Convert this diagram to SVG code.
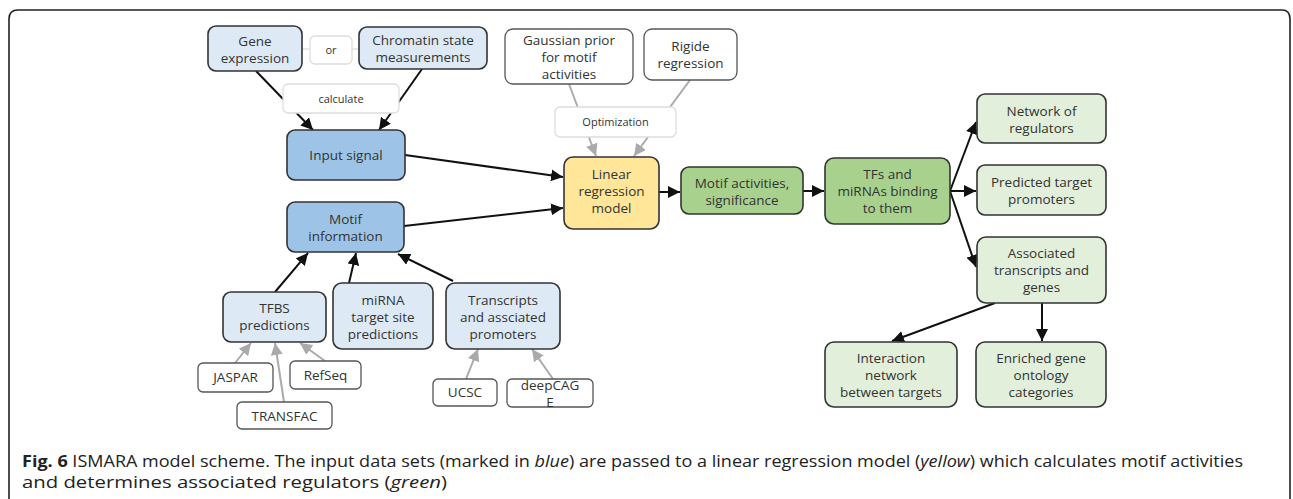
<svg xmlns="http://www.w3.org/2000/svg" width="1293" height="499" viewBox="0 0 1293 499">
<style>
  text { font-family: "Open Sans", "Liberation Sans", sans-serif; font-size: 13.5px; fill: #333; text-anchor: middle; }
  .n { stroke: #333; stroke-width: 1.6; }
  .lb { fill: #ddeaf6; }
  .db { fill: #9dc3e6; }
  .ye { fill: #ffe699; }
  .gr { fill: #a9d18e; }
  .lg { fill: #e2efda; }
  .wh { fill: #fff; stroke: #555; stroke-width: 1.3; }
  .gh { fill: #fff; stroke: #ddd; stroke-width: 1.3; }
  .sm { font-size: 11px; }
  .e { fill: none; stroke: #111; stroke-width: 2; }
  .eg { fill: none; stroke: #aaa; stroke-width: 2; }
  .cap { font-family: "Open Sans", "Liberation Sans", sans-serif; font-size: 16.5px; fill: #222; text-anchor: start; }
</style>
<defs>
  <marker id="ab" viewBox="0 0 10 10" refX="10" refY="5" markerWidth="6" markerHeight="6" markerUnits="strokeWidth" orient="auto">
    <path d="M0,0 L10,5 L0,10 z" fill="#111"/>
  </marker>
  <marker id="ag" viewBox="0 0 10 10" refX="10" refY="5" markerWidth="6" markerHeight="6" markerUnits="strokeWidth" orient="auto">
    <path d="M0,0 L10,5 L0,10 z" fill="#aaa"/>
  </marker>
  <clipPath id="clipDeep"><rect x="507" y="379" width="86" height="28" rx="5"/></clipPath>
</defs>
<rect width="1293" height="499" fill="#fff"/>
<path d="M9,520 L9,19 Q9,10 18,10 L1282,10 Q1290,10 1290,19 L1290,520" fill="none" stroke="#222" stroke-width="1.6"/>

<g id="connectors">
  <line class="eg" x1="302" y1="49" x2="310" y2="49" style="stroke:#ddd;stroke-width:1.3"/>
  <line class="eg" x1="352" y1="49" x2="359" y2="49" style="stroke:#ddd;stroke-width:1.3"/>
  <line class="e" x1="256" y1="71" x2="313" y2="130" marker-end="url(#ab)"/>
  <line class="e" x1="422" y1="69" x2="379" y2="130" marker-end="url(#ab)"/>
  <line class="eg" x1="569" y1="84" x2="596" y2="156" marker-end="url(#ag)"/>
  <line class="eg" x1="690" y1="80" x2="634" y2="156" marker-end="url(#ag)"/>
  <line class="e" x1="405" y1="155" x2="563" y2="177" marker-end="url(#ab)"/>
  <line class="e" x1="404" y1="226" x2="563" y2="208" marker-end="url(#ab)"/>
  <line class="e" x1="659" y1="192" x2="680" y2="192" marker-end="url(#ab)"/>
  <line class="e" x1="803" y1="191" x2="824" y2="191" marker-end="url(#ab)"/>
  <line class="e" x1="950" y1="191" x2="976" y2="122" marker-end="url(#ab)"/>
  <line class="e" x1="950" y1="191" x2="976" y2="191" marker-end="url(#ab)"/>
  <line class="e" x1="950" y1="191" x2="976" y2="267" marker-end="url(#ab)"/>
  <line class="e" x1="995" y1="303" x2="892" y2="341" marker-end="url(#ab)"/>
  <line class="e" x1="1042" y1="303" x2="1042" y2="341" marker-end="url(#ab)"/>
  <line class="e" x1="275" y1="292" x2="308" y2="253" marker-end="url(#ab)"/>
  <line class="e" x1="349" y1="283" x2="356" y2="253" marker-end="url(#ab)"/>
  <line class="e" x1="453" y1="281" x2="398" y2="254" marker-end="url(#ab)"/>
  <line class="eg" x1="235" y1="363" x2="251" y2="343" marker-end="url(#ag)"/>
  <line class="eg" x1="284" y1="402" x2="275" y2="343" marker-end="url(#ag)"/>
  <line class="eg" x1="325" y1="361" x2="300" y2="343" marker-end="url(#ag)"/>
  <line class="eg" x1="466" y1="379" x2="478" y2="349" marker-end="url(#ag)"/>
  <line class="eg" x1="553" y1="379" x2="532" y2="349" marker-end="url(#ag)"/>
</g>

<g id="gene-expression"><rect class="n lb" x="208" y="26" width="94" height="45" rx="8"/><text x="255" y="45.5">Gene</text><text x="255" y="62.5">expression</text></g>
<g id="or"><rect class="gh" x="310" y="36" width="42" height="28" rx="5"/><text class="sm" x="331" y="54">or</text></g>
<g id="chromatin"><rect class="n lb" x="359" y="27" width="128" height="42" rx="8"/><text x="423" y="45">Chromatin state</text><text x="423" y="62">measurements</text></g>
<g id="calculate"><rect class="gh" x="283" y="84" width="116" height="29" rx="5"/><text class="sm" x="341" y="102.5">calculate</text></g>
<g id="input-signal"><rect class="n db" x="287" y="130" width="118" height="50" rx="8"/><text x="346" y="159.5">Input signal</text></g>
<g id="gaussian"><rect class="wh" x="505" y="29" width="128" height="55" rx="8"/><text x="569" y="45">Gaussian prior</text><text x="569" y="62">for motif</text><text x="569" y="79">activities</text></g>
<g id="rigide"><rect class="wh" x="644" y="29" width="93" height="51" rx="8"/><text x="690.5" y="51">Rigide</text><text x="690.5" y="68">regression</text></g>
<g id="optimization"><rect class="gh" x="555" y="107" width="121" height="30" rx="5"/><text class="sm" x="615.5" y="126">Optimization</text></g>
<g id="linear-regression"><rect class="n ye" x="564" y="157" width="95" height="72" rx="9"/><text x="611.5" y="178.5">Linear</text><text x="611.5" y="195.5">regression</text><text x="611.5" y="212.5">model</text></g>
<g id="motif-activities"><rect class="n gr" x="681" y="167" width="122" height="47" rx="8"/><text x="742" y="187.5">Motif activities,</text><text x="742" y="204.5">significance</text></g>
<g id="tfs"><rect class="n gr" x="825" y="158" width="125" height="66" rx="9"/><text x="887.5" y="178.5">TFs and</text><text x="887.5" y="195.5">miRNAs binding</text><text x="887.5" y="212.5">to them</text></g>
<g id="network"><rect class="n lg" x="977" y="94" width="129" height="49" rx="8"/><text x="1041.5" y="115.5">Network of</text><text x="1041.5" y="132.5">regulators</text></g>
<g id="predicted"><rect class="n lg" x="977" y="165" width="129" height="50" rx="8"/><text x="1041.5" y="186.5">Predicted target</text><text x="1041.5" y="203.5">promoters</text></g>
<g id="associated"><rect class="n lg" x="977" y="237" width="129" height="66" rx="9"/><text x="1041.5" y="257.5">Associated</text><text x="1041.5" y="274.5">transcripts and</text><text x="1041.5" y="291.5">genes</text></g>
<g id="interaction"><rect class="n lg" x="825" y="342" width="132" height="65" rx="9"/><text x="891" y="362.5">Interaction</text><text x="891" y="379.5">network</text><text x="891" y="396.5">between targets</text></g>
<g id="enriched"><rect class="n lg" x="976" y="342" width="130" height="65" rx="9"/><text x="1041" y="362.5">Enriched gene</text><text x="1041" y="379.5">ontology</text><text x="1041" y="396.5">categories</text></g>
<g id="motif-information"><rect class="n db" x="287" y="202" width="117" height="50" rx="8"/><text x="345.5" y="223.5">Motif</text><text x="345.5" y="240.5">information</text></g>
<g id="tfbs"><rect class="n lb" x="223" y="292" width="103" height="50" rx="8"/><text x="274.5" y="312.5">TFBS</text><text x="274.5" y="330">predictions</text></g>
<g id="mirna"><rect class="n lb" x="333" y="283" width="100" height="66" rx="9"/><text x="383" y="304.5">miRNA</text><text x="383" y="321.5">target site</text><text x="383" y="338.5">predictions</text></g>
<g id="transcripts"><rect class="n lb" x="446" y="283" width="114" height="66" rx="9"/><text x="503" y="304.5">Transcripts</text><text x="503" y="321.5">and assciated</text><text x="503" y="338.5">promoters</text></g>
<g id="jaspar"><rect class="wh" x="198" y="363" width="75" height="29" rx="5"/><text x="235.5" y="382">JASPAR</text></g>
<g id="refseq"><rect class="wh" x="290" y="361" width="71" height="28" rx="5"/><text x="325.5" y="379.5">RefSeq</text></g>
<g id="transfac"><rect class="wh" x="237" y="402" width="95" height="27" rx="5"/><text x="284.5" y="420.5">TRANSFAC</text></g>
<g id="ucsc"><rect class="wh" x="433" y="379" width="64" height="27" rx="5"/><text x="465" y="397">UCSC</text></g>
<g id="deepcage"><rect class="wh" x="507" y="379" width="86" height="28" rx="5"/><g clip-path="url(#clipDeep)"><text x="550" y="389.5">deepCAG</text><text x="550" y="406.5">E</text></g></g>

<g id="caption">
  <text class="cap" x="22" y="467" textLength="1221" lengthAdjust="spacingAndGlyphs"><tspan font-weight="bold">Fig. 6</tspan> ISMARA model scheme. The input data sets (marked in <tspan font-style="italic">blue</tspan>) are passed to a linear regression model (<tspan font-style="italic">yellow</tspan>) which calculates motif activities</text>
  <text class="cap" x="22" y="488" textLength="425" lengthAdjust="spacingAndGlyphs">and determines associated regulators (<tspan font-style="italic">green</tspan>)</text>
</g>
</svg>
